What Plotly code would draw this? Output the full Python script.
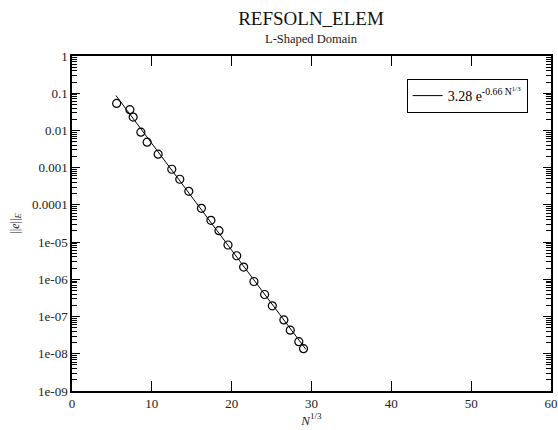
import numpy as np
import plotly.graph_objects as go

# Data
n_cuberoot = [5.59, 7.25, 7.66, 8.63, 9.41, 10.79, 12.5, 13.5, 14.63, 16.21, 17.4,
              18.41, 19.54, 20.63, 21.5, 22.79, 24.13, 25.09, 26.54, 27.34, 28.41, 29.0]
energy_err = [0.0532, 0.0361, 0.0228, 0.0090, 0.00483, 0.00230, 0.000906, 0.000488,
              0.000232, 8.07e-5, 3.84e-5, 2.03e-5, 8.36e-6, 4.30e-6, 2.13e-6, 8.75e-7,
              3.91e-7, 1.94e-7, 8.14e-8, 4.30e-8, 2.12e-8, 1.37e-8]

# Fit given in the legend: 3.28 e^(-0.66 N^(1/3))
fit_a = 3.28
fit_b = 0.66
fit_x = [5.5, 29.3]

x_ticks = [0, 10, 20, 30, 40, 50, 60]
y_tickvals = [1, 0.1, 0.01, 0.001, 0.0001, 1e-05, 1e-06, 1e-07, 1e-08, 1e-09]
y_ticktext = ["1", "0.1", "0.01", "0.001", "0.0001", "1e-05", "1e-06", "1e-07", "1e-08", "1e-09"]

fit_y = [fit_a * np.exp(-fit_b * v) for v in fit_x]
minor_vals = [m * 10.0 ** e for e in range(-9, 0) for m in range(2, 10)]

FONT = "Liberation Serif"

fig = go.Figure()
fig.add_trace(go.Scatter(
    x=fit_x, y=fit_y, mode="lines",
    line=dict(color="black", width=1),
    name="3.28 e<sup>-0.66 N<sup>1/3</sup></sup>",
    showlegend=True,
))
fig.add_trace(go.Scatter(
    x=n_cuberoot, y=energy_err, mode="markers",
    marker=dict(symbol="circle-open", size=8, color="black", line=dict(width=1.2, color="black")),
    showlegend=False,
))

axis_common = dict(
    showgrid=False, zeroline=False, showline=True, linecolor="black", linewidth=1.5,
    mirror="allticks", ticks="inside", tickcolor="black", automargin=False,
    tickfont=dict(family=FONT, size=13, color="#222"),
)

fig.update_xaxes(
    range=[0, 60], tickvals=x_ticks, ticklen=10, tickwidth=1,
    title=dict(text="<i>N</i><sup>1/3</sup>", font=dict(family=FONT, size=13, color="#222"), standoff=0),
    **axis_common,
)
fig.update_yaxes(
    type="log", range=[-9, 0], tickvals=y_tickvals, ticktext=y_ticktext,
    ticklen=8, tickwidth=1,
    minor=dict(tickvals=minor_vals, ticks="inside", ticklen=5, tickcolor="black", tickwidth=1),
    title=dict(text="||<i>e</i>||<sub><i>E</i></sub>", font=dict(family=FONT, size=12, color="#222"), standoff=10),
    **axis_common,
)

fig.update_layout(
    width=558, height=430,
    margin=dict(l=72, r=7, t=56, b=39, autoexpand=False),
    paper_bgcolor="white", plot_bgcolor="white",
    font=dict(family=FONT, color="black"),
    title=dict(text="REFSOLN_ELEM", font=dict(family=FONT, size=19, color="#111"),
               x=311 / 558, xanchor="center", y=1 - 18 / 430, yanchor="middle", automargin=False),
    annotations=[dict(text="L-Shaped Domain", xref="paper", yref="paper",
                      x=0.5, y=(335 + 17) / 335, xanchor="center", yanchor="middle",
                      showarrow=False, font=dict(family=FONT, size=12.5, color="#222"))],
    legend=dict(x=(407 - 72) / 479.5, y=(391 - 79) / 335, xanchor="left", yanchor="top",
                bordercolor="black", borderwidth=1, bgcolor="white",
                font=dict(family=FONT, size=14, color="black"), itemwidth=30,
                tracegroupgap=0),
)

fig.write_html("out.html", config={"displayModeBar": False},
               post_script="document.body.style.margin='0';")
